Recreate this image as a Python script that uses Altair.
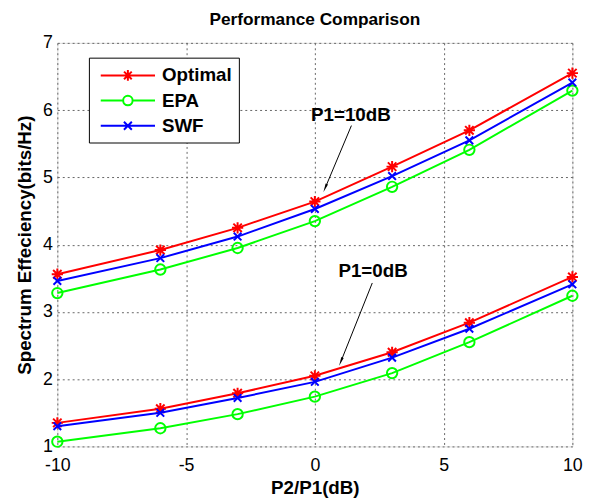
import altair as alt
import pandas as pd
import math

# ---- data ----
x_vals = [-10, -6, -3, 0, 3, 6, 10]
series_names = ["Optimal", "EPA", "SWF"]
series_colors = ["#ff0000", "#00ff00", "#0000ff"]

opt_10 = [3.56, 3.92, 4.25, 4.64, 5.16, 5.70, 6.55]
epa_10 = [3.28, 3.63, 3.95, 4.35, 4.86, 5.41, 6.29]
swf_10 = [3.46, 3.80, 4.12, 4.53, 5.02, 5.55, 6.41]
opt_0 = [1.35, 1.56, 1.79, 2.05, 2.40, 2.84, 3.52]
epa_0 = [1.07, 1.27, 1.48, 1.74, 2.09, 2.55, 3.24]
swf_0 = [1.30, 1.50, 1.72, 1.96, 2.32, 2.75, 3.41]

x_ticks = [-10, -5, 0, 5, 10]
y_ticks = [1, 2, 3, 4, 5, 6, 7]

ann_text = ["P1=10dB", "P1=0dB"]
ann_tx = [1.40, 2.26]
ann_ty = [5.93, 3.60]
arr_x1 = [1.42, 2.23]
arr_y1 = [5.77, 3.43]
arr_x2 = [0.42, 1.03]
arr_y2 = [4.86, 2.28]

# ---- build tables ----
rows = []
for grp, vals in [("10dB", [opt_10, epa_10, swf_10]), ("0dB", [opt_0, epa_0, swf_0])]:
    for name, ys in zip(series_names, vals):
        for xv, yv in zip(x_vals, ys):
            rows.append({"x": xv, "y": yv, "series": name, "group": grp})
df = pd.DataFrame(rows)

W, H = 522, 409
px_per_x = W / 20.0
px_per_y = H / 6.0
angles = []
for a, b, c, d in zip(arr_x1, arr_y1, arr_x2, arr_y2):
    dx = (c - a) * px_per_x
    dy = -(d - b) * px_per_y
    angles.append(math.degrees(math.atan2(dx, -dy)) % 360)
ann = pd.DataFrame({"text": ann_text, "tx": ann_tx, "ty": ann_ty,
                    "x1": arr_x1, "y1": arr_y1, "x2": arr_x2, "y2": arr_y2, "ang": angles})

FONT = "Liberation Sans"
xscale = alt.Scale(domain=[-10, 10], nice=False, zero=False)
yscale = alt.Scale(domain=[1, 7], nice=False, zero=False)

xaxis = alt.Axis(values=x_ticks, title="P2/P1(dB)", grid=True, gridDash=[2, 3],
                 gridColor="#666666", gridWidth=1, domain=False, ticks=False,
                 labelExpr="'' + datum.value",
                 labelFontSize=18, labelPadding=10, titleFontSize=19, titleFontWeight="bold",
                 titlePadding=5, labelFlush=False)
yaxis = alt.Axis(values=y_ticks, title="Spectrum Effeciency(bits/Hz)", grid=True, gridDash=[2, 3],
                 gridColor="#666666", gridWidth=1, domain=False, ticks=False,
                 labelExpr="'' + datum.value",
                 labelFontSize=18, labelPadding=5, titleFontSize=19, titleFontWeight="bold",
                 titleX=-33, titleY=H / 2, titleAngle=-90, titleAlign="center",
                 titleBaseline="middle", labelFlush=False)

base = alt.Chart(df)
star_path = "M0,-1L0,1M-1,0L1,0M-0.75,-0.75L0.75,0.75M-0.75,0.75L0.75,-0.75"
x_path = "M-1,-1L1,1M-1,1L1,-1"
marker_shapes = {"Optimal": (star_path, 130), "EPA": ("circle", 110), "SWF": (x_path, 60)}

layers = []
first = True
for name, col in zip(series_names, series_colors):
    sub = base.transform_filter(alt.datum.series == name)
    if first:
        enc = dict(x=alt.X("x:Q", scale=xscale, axis=xaxis),
                   y=alt.Y("y:Q", scale=yscale, axis=yaxis))
        first = False
    else:
        enc = dict(x="x:Q", y="y:Q")
    layers.append(sub.mark_line(strokeWidth=2, color=col).encode(detail="group:N", **enc))
    shp, sz = marker_shapes[name]
    layers.append(sub.mark_point(shape=shp, size=sz, filled=False, strokeWidth=2,
                                 color=col, opacity=1).encode(x="x:Q", y="y:Q"))

# legend symbols: line from -0.6 to 4.9 units (unit = 10px), marker centred at 2.15
leg_opt = ("M-0.6,0L4.9,0M2.15,-0.55L2.15,0.55M1.6,0L2.7,0"
           "M1.76,-0.39L2.54,0.39M1.76,0.39L2.54,-0.39")
leg_epa = ("M-0.6,0L1.67,0M2.63,0L4.9,0"
           "M1.67,0A0.48,0.48,0,1,0,2.63,0A0.48,0.48,0,1,0,1.67,0")
leg_swf = "M-0.6,0L4.9,0M1.75,-0.4L2.55,0.4M1.75,0.4L2.55,-0.4"

legend_layer = base.transform_filter(alt.datum.group == "10dB").mark_point(
    filled=False, opacity=0, strokeWidth=2).encode(
    x="x:Q", y="y:Q",
    color=alt.Color("series:N", scale=alt.Scale(domain=series_names, range=series_colors),
                    legend=alt.Legend(
        title=None, orient="none", legendX=32, legendY=15,
        symbolOpacity=1, symbolStrokeWidth=2, symbolSize=400,
        labelFontSize=19, labelFontWeight="bold", labelFont=FONT, labelColor="black",
        strokeColor="black", fillColor="white", padding=7, rowPadding=4.5,
        labelOffset=45, symbolFillColor="transparent")),
    shape=alt.Shape("series:N", scale=alt.Scale(domain=series_names,
                                                range=[leg_opt, leg_epa, leg_swf])),
)
layers.append(legend_layer)

ann_base = alt.Chart(ann)
layers.append(ann_base.mark_rule(color="black", strokeWidth=1).encode(
    x="x1:Q", y="y1:Q", x2="x2:Q", y2="y2:Q"))
layers.append(ann_base.mark_point(shape="wedge", filled=True, color="black", size=110, opacity=1).encode(
    x="x2:Q", y="y2:Q", angle=alt.Angle("ang:Q", scale=None)))
layers.append(ann_base.mark_text(fontSize=19, fontWeight="bold", font=FONT, color="black").encode(
    x="tx:Q", y="ty:Q", text="text:N"))

chart = alt.layer(*layers).properties(
    width=W, height=H,
    title=alt.TitleParams("Performance Comparison", fontSize=17.5, fontWeight="bold", font=FONT,
                          anchor="middle", offset=6, color="black"),
    autosize=alt.AutoSizeParams(type="none"),
    padding={"left": 50, "top": 32, "right": 28, "bottom": 53},
).configure_view(stroke="black", strokeWidth=2).configure_axis(
    labelFont=FONT, titleFont=FONT, labelColor="black", titleColor="black"
).configure(background="white")

chart.save("out.html", embed_options={"renderer": "svg", "actions": False})
